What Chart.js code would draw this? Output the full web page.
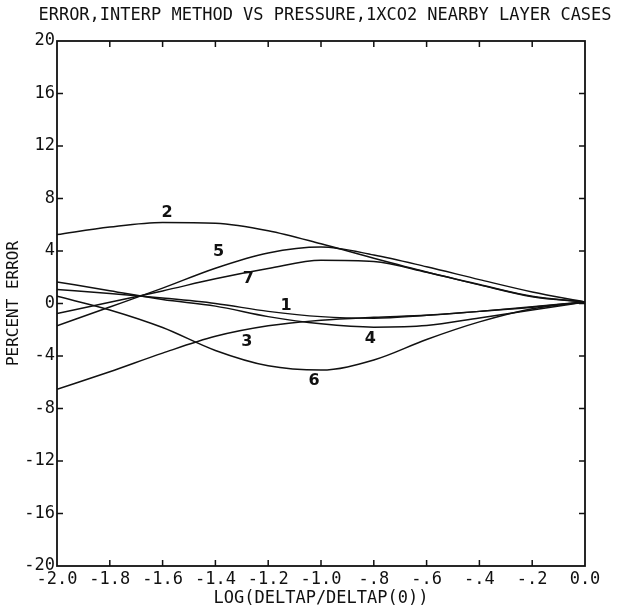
<!DOCTYPE html>
<html>
<head>
<meta charset="utf-8">
<script src="https://cdn.jsdelivr.net/npm/chart.js@4.4.1/dist/chart.umd.min.js"></script>
<style>
  html, body { margin: 0; padding: 0; background: #fff; }
</style>
</head>
<body>
<canvas id="errChart" width="622" height="609"></canvas>
<script>
// x positions, log(deltap/deltap(0))
var xVals = [-2.0, -1.8, -1.6, -1.4, -1.2, -1.0, -0.8, -0.6, -0.4, -0.2, 0.0];

// percent error for each nearby layer case
var case1 = [1.06, 0.77, 0.42, 0.0, -0.6, -1.0, -1.12, -0.9, -0.6, -0.25, 0.12];
var case2 = [5.25, 5.83, 6.18, 6.12, 5.55, 4.55, 3.45, 2.4, 1.45, 0.55, 0.12];
var case3 = [-6.54, -5.2, -3.78, -2.5, -1.7, -1.27, -1.05, -0.9, -0.6, -0.28, 0.12];
var case4 = [1.64, 0.98, 0.3, -0.2, -1.0, -1.55, -1.8, -1.68, -1.1, -0.5, 0.12];
var case5 = [-1.69, -0.27, 1.17, 2.69, 3.85, 4.3, 3.7, 2.8, 1.82, 0.88, 0.12];
var case6 = [0.55, -0.49, -1.83, -3.58, -4.75, -5.07, -4.3, -2.74, -1.4, -0.4, 0.12];
var case7 = [-0.76, 0.1, 0.96, 1.88, 2.66, 3.3, 3.2, 2.38, 1.42, 0.52, 0.12];

var caseNames = ['1', '2', '3', '4', '5', '6', '7'];
var caseData = [case1, case2, case3, case4, case5, case6, case7];
// where the case numbers are written (data coordinates)
var labelX = [-1.132, -1.583, -1.281, -0.813, -1.388, -1.026, -1.275];
var labelY = [-0.18, 6.94, -2.92, -2.66, 3.92, -5.88, 1.85];

var xTickLabels = ['-2.0', '-1.8', '-1.6', '-1.4', '-1.2', '-1.0', '-.8', '-.6', '-.4', '-.2', '0.0'];
var titleText = 'ERROR,INTERP METHOD VS PRESSURE,1XCO2 NEARBY LAYER CASES';

var plotFont = "'DejaVu Sans Mono', monospace";

var datasets = caseData.map(function (vals, i) {
    return {
        label: caseNames[i],
        data: vals.map(function (v, j) { return { x: xVals[j], y: v }; }),
        borderColor: '#111',
        borderWidth: 1.5,
        pointRadius: 0,
        fill: false,
        cubicInterpolationMode: 'monotone'
    };
});

// frame, inward tick marks, title and case numbers
var framePlugin = {
    id: 'framePlugin',
    afterDraw: function (chart) {
        var ctx = chart.ctx;
        var a = chart.chartArea;
        var xs = chart.scales.x, ys = chart.scales.y;
        ctx.save();
        ctx.strokeStyle = '#111';
        ctx.lineWidth = 1.8;
        ctx.strokeRect(a.left, a.top, a.right - a.left, a.bottom - a.top);
        ctx.lineWidth = 1.5;
        ctx.beginPath();
        xs.ticks.forEach(function (t, i) {
            if (i === 0 || i === xs.ticks.length - 1) return;
            var px = xs.getPixelForValue(t.value);
            ctx.moveTo(px, a.bottom); ctx.lineTo(px, a.bottom - 6);
            ctx.moveTo(px, a.top); ctx.lineTo(px, a.top + 6);
        });
        ys.ticks.forEach(function (t, i) {
            if (i === 0 || i === ys.ticks.length - 1) return;
            var py = ys.getPixelForValue(t.value);
            ctx.moveTo(a.left, py); ctx.lineTo(a.left + 6, py);
            ctx.moveTo(a.right, py); ctx.lineTo(a.right - 6, py);
        });
        ctx.stroke();

        ctx.fillStyle = '#111';
        ctx.font = '17px ' + plotFont;
        ctx.textAlign = 'center';
        ctx.textBaseline = 'middle';
        ctx.fillText(titleText, 325, 16);

        ctx.font = 'bold 16px DejaVu Sans';
        caseNames.forEach(function (n, i) {
            ctx.fillText(n, xs.getPixelForValue(labelX[i]), ys.getPixelForValue(labelY[i]));
        });
        ctx.restore();
    }
};

var errChart = new Chart(document.getElementById('errChart'), {
    type: 'line',
    data: { datasets: datasets },
    options: {
        responsive: false,
        animation: false,
        layout: { padding: { top: 41, right: 37, left: 0, bottom: 0 } },
        plugins: { legend: { display: false }, tooltip: { enabled: false }, title: { display: false } },
        scales: {
            x: {
                type: 'linear',
                min: -2.0,
                max: 0.0,
                grid: { display: false, drawTicks: false },
                border: { display: false },
                ticks: {
                    stepSize: 0.2,
                    padding: 3,
                    maxRotation: 0,
                    autoSkip: false,
                    color: '#111',
                    font: { family: plotFont, size: 17 },
                    callback: function (v, i) { return xTickLabels[i]; }
                },
                title: {
                    display: true,
                    text: 'LOG(DELTAP/DELTAP(0))',
                    color: '#111',
                    font: { family: plotFont, size: 17 },
                    padding: { top: 0, bottom: 0 }
                },
                afterFit: function (s) { s.height = 43; }
            },
            y: {
                min: -20,
                max: 20,
                grid: { display: false, drawTicks: false },
                border: { display: false },
                ticks: {
                    stepSize: 4,
                    padding: 2,
                    autoSkip: false,
                    color: '#111',
                    font: { family: plotFont, size: 17 }
                },
                title: {
                    display: true,
                    text: 'PERCENT ERROR',
                    color: '#111',
                    font: { family: plotFont, size: 16 },
                    padding: { top: 4, bottom: 0 }
                },
                afterFit: function (s) { s.width = 57; }
            }
        }
    },
    plugins: [framePlugin]
});
</script>
</body>
</html>
